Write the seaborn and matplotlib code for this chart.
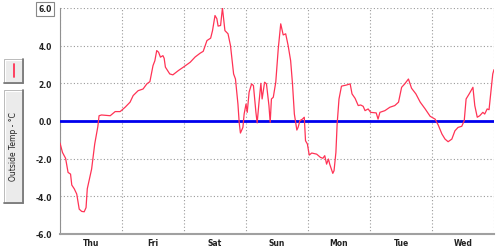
import matplotlib
matplotlib.use("Agg")
import matplotlib.pyplot as plt
import seaborn as sns
import pandas as pd
from matplotlib.patches import Rectangle
from matplotlib.lines import Line2D

# ---- data ----
days = ["Thu", "Fri", "Sat", "Sun", "Mon", "Tue", "Wed"]
y_ticks = [-6.0, -4.0, -2.0, 0.0, 2.0, 4.0, 6.0]
series_label = "Outside Temp - \u00b0C"

# time in days since start of Thu
t_days = [0.00, 0.04, 0.09, 0.13, 0.17, 0.19, 0.23, 0.27, 0.31, 0.35, 0.39, 0.42, 0.44, 0.51,
          0.56, 0.61, 0.63, 0.67, 0.81, 0.89, 0.97, 1.05, 1.13, 1.18, 1.26, 1.34, 1.40, 1.45,
          1.50, 1.53, 1.56, 1.59, 1.62, 1.66, 1.68, 1.70, 1.77, 1.82, 1.91, 1.99, 2.10, 2.18,
          2.26, 2.31, 2.37, 2.43, 2.46, 2.50, 2.53, 2.55, 2.59, 2.62, 2.66, 2.71, 2.75, 2.80,
          2.83, 2.87, 2.89, 2.91, 2.95, 2.97, 3.00, 3.02, 3.05, 3.09, 3.12, 3.16, 3.18, 3.21,
          3.24, 3.26, 3.30, 3.33, 3.37, 3.39, 3.41, 3.44, 3.48, 3.52, 3.56, 3.60, 3.64, 3.68,
          3.72, 3.75, 3.78, 3.82, 3.84, 3.87, 3.91, 3.94, 3.96, 3.99, 4.02, 4.06, 4.14, 4.20,
          4.24, 4.27, 4.30, 4.33, 4.35, 4.40, 4.42, 4.45, 4.47, 4.50, 4.54, 4.62, 4.68, 4.71,
          4.76, 4.81, 4.85, 4.89, 4.92, 4.97, 5.01, 5.10, 5.13, 5.16, 5.24, 5.32, 5.40, 5.46,
          5.51, 5.56, 5.62, 5.67, 5.74, 5.81, 5.89, 5.97, 6.05, 6.10, 6.16, 6.21, 6.26, 6.32,
          6.37, 6.42, 6.48, 6.52, 6.55, 6.60, 6.66, 6.69, 6.73, 6.77, 6.82, 6.85, 6.89, 6.92,
          6.95, 6.98, 7.00]
temp_c = [-1.17, -1.67, -1.98, -2.73, -2.82, -3.40, -3.60, -3.88, -4.68, -4.80, -4.82, -4.60,
          -3.60, -2.55, -1.22, -0.30, 0.28, 0.32, 0.28, 0.50, 0.50, 0.73, 1.00, 1.35, 1.61, 1.70,
          1.97, 2.09, 2.94, 3.20, 3.74, 3.65, 3.39, 3.47, 3.33, 2.86, 2.50, 2.45, 2.68, 2.86,
          3.12, 3.40, 3.60, 3.70, 4.27, 4.40, 4.80, 5.60, 5.43, 5.04, 5.07, 6.00, 4.80, 4.63,
          4.00, 2.50, 2.23, 0.90, -0.07, -0.64, -0.34, 0.37, 0.90, 0.46, 1.53, 1.97, 1.88, 0.46,
          -0.10, 1.00, 2.00, 1.17, 2.06, 1.97, 0.82, -0.07, 1.17, 1.26, 2.06, 3.83, 5.16, 4.57,
          4.63, 4.00, 3.20, 1.97, 0.37, -0.48, -0.34, 0.02, 0.10, 0.20, -1.05, -1.22, -1.81,
          -1.70, -1.76, -1.93, -1.98, -1.84, -2.29, -2.02, -2.29, -2.78, -2.64, -1.67, -0.16,
          1.17, 1.85, 1.91, 1.97, 1.44, 1.20, 0.82, 0.85, 0.78, 0.55, 0.64, 0.46, 0.43, 0.10,
          0.46, 0.55, 0.73, 0.82, 1.00, 1.79, 1.97, 2.23, 1.74, 1.44, 1.00, 0.64, 0.25, 0.10,
          -0.21, -0.69, -0.96, -1.10, -0.96, -0.52, -0.34, -0.28, 0.02, 1.17, 1.44, 1.79, 0.82,
          0.20, 0.28, 0.46, 0.37, 0.64, 0.60, 1.53, 2.50, 2.73]
zero_level = 0.0

df = pd.DataFrame({"t": t_days, "temp": temp_c})

sns.set_style("white")
plt.rcParams["font.family"] = ["DejaVu Sans"]

fig = plt.figure(figsize=(5.0, 2.53), dpi=100)
fig.patch.set_facecolor("white")
ax = fig.add_axes([60 / 500, 18 / 253, 434 / 500, 226 / 253])

ax.axhline(zero_level, color="#0000ee", lw=2.0, zorder=3)
sns.lineplot(data=df, x="t", y="temp", ax=ax, color="#ff3355", lw=0.9, zorder=4)

ax.set_xlim(0, len(days))
ax.set_ylim(y_ticks[0], y_ticks[-1])

# grid and ticks
ax.set_xticks(range(len(days) + 1))
ax.set_xticklabels([])
ax.set_xticks([i + 0.5 for i in range(len(days))], minor=True)
ax.set_xticklabels(days, minor=True)
ax.set_yticks(y_ticks)
ax.set_yticklabels([f"{v:.1f}" for v in y_ticks])
ax.set_yticks([v / 2 for v in range(-12, 13)], minor=True)

ax.grid(True, which="major", color="#9a9a9a", ls=(0, (1.0, 2.0)), lw=0.8)
ax.tick_params(axis="x", which="major", length=4, color="#808080", width=0.8, direction="out")
ax.tick_params(axis="x", which="minor", length=0, pad=3, labelsize=5.5, labelcolor="#222222")
ax.tick_params(axis="y", which="major", length=4, color="#808080", width=0.8, pad=2,
               labelsize=5.5, labelcolor="#222222")
ax.tick_params(axis="y", which="minor", length=2, color="#808080", width=0.6)
for lab in ax.get_xticklabels(minor=True) + ax.get_yticklabels():
    lab.set_fontweight("bold")
top_lab = ax.get_yticklabels()[-1]
top_lab.set_bbox(dict(boxstyle="square,pad=0.35", fc="white", ec="#888888", lw=0.8))

ax.set_xlabel("")
ax.set_ylabel("")
for s in ["top", "right"]:
    ax.spines[s].set_visible(False)
ax.spines["left"].set_color("#909090")
ax.spines["left"].set_linewidth(0.8)
ax.spines["bottom"].set_color("#a0a0a0")
ax.spines["bottom"].set_linewidth(1.5)

# legend buttons on the left (figure pixel coordinates)
def fx(x):
    return x / 500

def fy(y):
    return 1 - y / 253

def button(x0, y0, x1, y1):
    fig.patches.append(Rectangle((fx(x0), fy(y1)), fx(x1) - fx(x0), fy(y0) - fy(y1),
                                 transform=fig.transFigure, fc="#ebebeb", ec="#b8b8b8", lw=0.7))
    # 3D edges: light top/left, dark bottom/right
    fig.lines.append(Line2D([fx(x0 + 0.8), fx(x1 - 1)], [fy(y0 + 0.8)] * 2,
                            transform=fig.transFigure, color="white", lw=0.8))
    fig.lines.append(Line2D([fx(x0 + 0.8)] * 2, [fy(y0 + 0.8), fy(y1 - 1)],
                            transform=fig.transFigure, color="white", lw=0.8))
    fig.lines.append(Line2D([fx(x0), fx(x1)], [fy(y1)] * 2,
                            transform=fig.transFigure, color="#7a7a7a", lw=1.3))
    fig.lines.append(Line2D([fx(x1)] * 2, [fy(y0), fy(y1)],
                            transform=fig.transFigure, color="#7a7a7a", lw=1.3))

button(4, 60, 23, 84)
fig.lines.append(Line2D([fx(13.5)] * 2, [fy(65), fy(78)],
                        transform=fig.transFigure, color="#ff3355", lw=1.3))
button(4, 91, 23, 204)
fig.text(fx(13.5), fy(147), series_label, rotation=90, ha="center", va="center",
         fontsize=5.5, color="#222222")

fig.savefig("out.png", dpi=100, facecolor="white")
